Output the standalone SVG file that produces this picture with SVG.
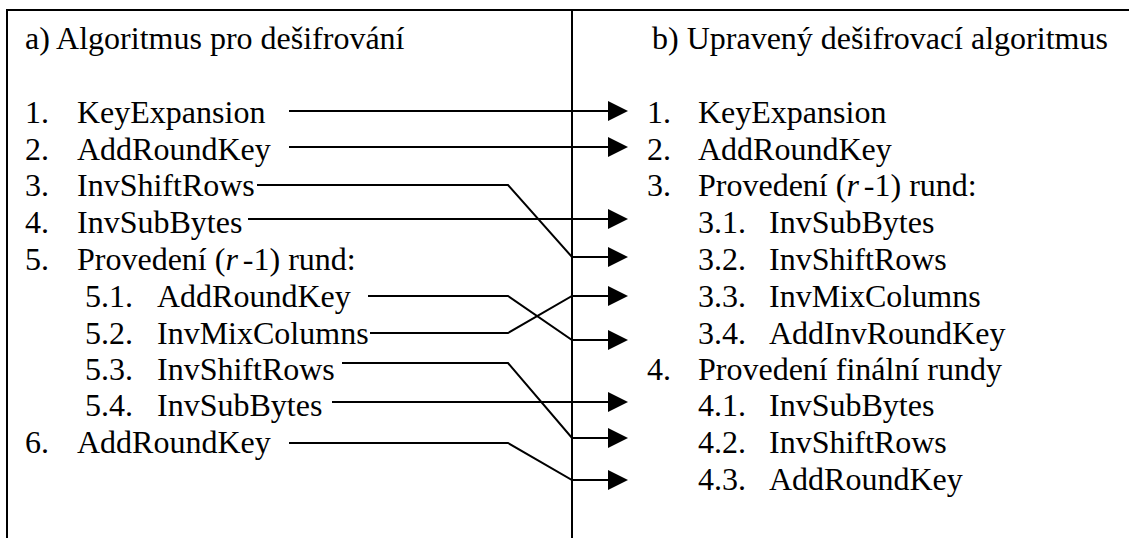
<svg xmlns="http://www.w3.org/2000/svg" width="1129" height="538" viewBox="0 0 1129 538">
<style>
text{font-family:"Liberation Serif","Times New Roman",serif;font-size:32px;fill:#000}
.ln{fill:none;stroke:#000;stroke-width:2}
.c{fill:none;stroke:#000;stroke-width:2;marker-end:url(#ah)}
</style>
<defs>
<marker id="ah" markerUnits="userSpaceOnUse" markerWidth="22" markerHeight="22" refX="4" refY="10" orient="auto" overflow="visible">
<path d="M0,0 L20,10 L0,20 Z" fill="#000"/>
</marker>
</defs>
<rect width="1129" height="538" fill="#fff"/>
<g id="frame">
<path class="ln" d="M7,538 V10 H1129"/>
<path class="ln" d="M572,10 V538"/>
</g>
<g id="left">
<text x="25" y="49">a) Algoritmus pro dešifrování</text>
<g id="l1"><text x="25" y="123">1.</text><text x="77" y="123">KeyExpansion</text></g>
<g id="l2"><text x="25" y="160">2.</text><text x="77" y="160">AddRoundKey</text></g>
<g id="l3"><text x="25" y="196">3.</text><text x="77" y="196">InvShiftRows</text></g>
<g id="l4"><text x="25" y="233">4.</text><text x="77" y="233">InvSubBytes</text></g>
<g id="l5"><text x="25" y="270">5.</text><text x="77" y="270">Provedení (<tspan font-style="italic">r</tspan><tspan dx="5">-1) rund:</tspan></text></g>
<g id="l51"><text x="85" y="307">5.1.</text><text x="157" y="307">AddRoundKey</text></g>
<g id="l52"><text x="85" y="344">5.2.</text><text x="157" y="344">InvMixColumns</text></g>
<g id="l53"><text x="85" y="380">5.3.</text><text x="157" y="380">InvShiftRows</text></g>
<g id="l54"><text x="85" y="416">5.4.</text><text x="157" y="416">InvSubBytes</text></g>
<g id="l6"><text x="25" y="453">6.</text><text x="77" y="453">AddRoundKey</text></g>
</g>
<g id="right">
<text x="652" y="49">b) Upravený dešifrovací algoritmus</text>
<g id="r1"><text x="647" y="123">1.</text><text x="698" y="123">KeyExpansion</text></g>
<g id="r2"><text x="647" y="160">2.</text><text x="698" y="160">AddRoundKey</text></g>
<g id="r3"><text x="647" y="196">3.</text><text x="698" y="196">Provedení (<tspan font-style="italic">r</tspan><tspan dx="5">-1) rund:</tspan></text></g>
<g id="r31"><text x="698" y="233">3.1.</text><text x="769" y="233">InvSubBytes</text></g>
<g id="r32"><text x="698" y="270">3.2.</text><text x="769" y="270">InvShiftRows</text></g>
<g id="r33"><text x="698" y="307">3.3.</text><text x="769" y="307">InvMixColumns</text></g>
<g id="r34"><text x="698" y="344">3.4.</text><text x="769" y="344">AddInvRoundKey</text></g>
<g id="r4"><text x="647" y="380">4.</text><text x="698" y="380">Provedení finální rundy</text></g>
<g id="r41"><text x="698" y="416">4.1.</text><text x="769" y="416">InvSubBytes</text></g>
<g id="r42"><text x="698" y="453">4.2.</text><text x="769" y="453">InvShiftRows</text></g>
<g id="r43"><text x="698" y="490">4.3.</text><text x="769" y="490">AddRoundKey</text></g>
</g>
<g id="connectors">
<path class="c" d="M289,111 H612"/>
<path class="c" d="M289,147 H612"/>
<path class="c" d="M257,185 H508 L572,257 H612"/>
<path class="c" d="M248,219 H612"/>
<path class="c" d="M368,296 H508 L572,340 H612"/>
<path class="c" d="M370,333 H508 L572,296 H612"/>
<path class="c" d="M342,363 H508 L572,438 H612"/>
<path class="c" d="M332,402 H612"/>
<path class="c" d="M289,443 H508 L572,480 H612"/>
</g>
</svg>
